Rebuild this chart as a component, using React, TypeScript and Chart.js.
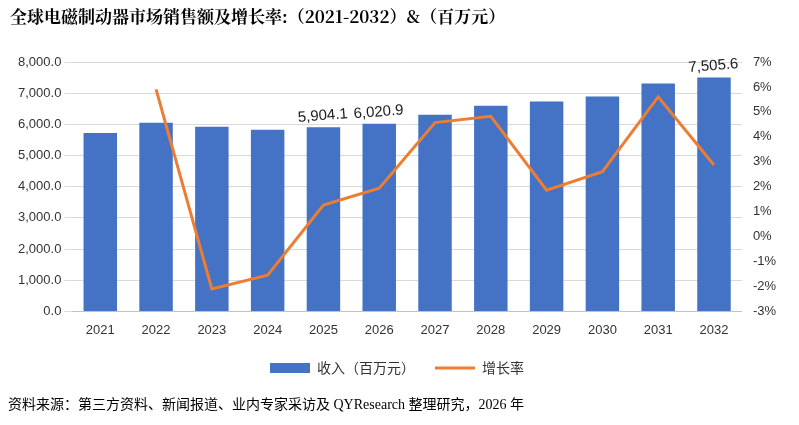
import React, { useEffect, useRef } from "react";
import { Chart, registerables } from "chart.js";
Chart.register(...registerables);

const years = ["2021","2022","2023","2024","2025","2026","2027","2028","2029","2030","2031","2032"];
const revenue = [5720, 6050, 5920, 5825, 5904.1, 6020.9, 6310, 6600, 6730, 6890, 7310, 7505.6];
const growth = [null, 5.9, -2.1, -1.55, 1.26, 1.94, 4.57, 4.82, 1.86, 2.6, 5.6, 2.87];
const labeled = [4, 5, 11];
const title = "全球电磁制动器市场销售额及增长率:（2021-2032）&（百万元）";
const source = "资料来源：第三方资料、新闻报道、业内专家采访及 QYResearch 整理研究，2026 年";

export default function App() {
  const ref = useRef<HTMLCanvasElement>(null);
  useEffect(() => {
    document.body.style.margin = "0";
    const textPlugin = {
      id: "texts",
      afterDraw(chart: any) {
        const ctx = chart.ctx;
        ctx.save();
        ctx.fillStyle = "#000";
        ctx.font = "bold 17px 'Noto Serif CJK SC', 'Noto Sans CJK SC', serif";
        ctx.textBaseline = "middle";
        ctx.fillText(title, 10, 17);
        ctx.font = "14px 'Liberation Serif', 'Noto Sans CJK SC', serif";
        ctx.fillText(source, 8, 405);
        const meta = chart.getDatasetMeta(1);
        ctx.font = "15px 'Liberation Sans', sans-serif";
        ctx.fillStyle = "#222";
        ctx.textAlign = "center";
        ctx.textBaseline = "bottom";
        labeled.forEach((i) => {
          const el = meta.data[i];
          const s = revenue[i].toLocaleString("en-US", { minimumFractionDigits: 1, maximumFractionDigits: 1 });
          ctx.save();
          ctx.translate(el.x, el.y - 4);
          ctx.rotate(-0.08);
          ctx.fillText(s, 0, 0);
          ctx.restore();
        });
        ctx.restore();
      },
    };
    const chart = new Chart(ref.current!, {
      type: "bar",
      data: {
        labels: years,
        datasets: [
          { type: "line", label: "增长率", data: growth, borderColor: "#ED7D31", backgroundColor: "#ED7D31", borderWidth: 3, pointRadius: 0, pointStyle: "line", yAxisID: "y1", order: 0 } as any,
          { type: "bar", label: "收入（百万元）", data: revenue, backgroundColor: "#4472C4", pointStyle: "rect", barPercentage: 0.6, categoryPercentage: 1, yAxisID: "y", order: 1 } as any,
        ],
      },
      options: {
        animation: false,
        responsive: false,
        layout: { padding: { top: 62, bottom: 40, left: 15, right: 20 } },
        plugins: {
          legend: {
            position: "bottom",
            reverse: true,
            labels: { usePointStyle: true, pointStyleWidth: 40, boxHeight: 10, font: { size: 14, family: "'Noto Sans CJK SC', sans-serif" }, color: "#333", padding: 20 },
          },
          tooltip: { enabled: false },
        },
        scales: {
          x: { grid: { display: false }, ticks: { color: "#333", font: { size: 13 } } },
          y: {
            min: 0, max: 8000,
            ticks: { stepSize: 1000, color: "#333", font: { size: 13 }, callback: (v: any) => Number(v).toLocaleString("en-US", { minimumFractionDigits: 1 }) },
            grid: { color: "#d9d9d9" }, border: { display: false },
          },
          y1: {
            position: "right", min: -3, max: 7,
            ticks: { stepSize: 1, color: "#333", font: { size: 13 }, callback: (v: any) => v + "%" },
            grid: { display: false }, border: { display: false },
          },
        },
      },
      plugins: [textPlugin],
    });
    return () => chart.destroy();
  }, []);
  return <canvas ref={ref} width={799} height={425} />;
}
